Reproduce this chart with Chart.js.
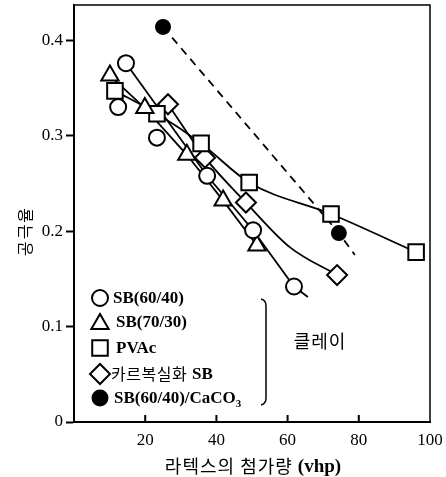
<!DOCTYPE html>
<html>
<head>
<meta charset="utf-8">
<script src="https://cdn.jsdelivr.net/npm/chart.js"></script>
<style>
  html, body { margin: 0; padding: 0; background: #fff; }
  #wrap { width: 446px; height: 477px; position: relative; }
</style>
</head>
<body>
<div id="wrap"><canvas id="c"></canvas></div>
<script>
// ---- data ----
const xTickValues = [0, 20, 40, 60, 80, 100];
const yTickValues = [0, 0.1, 0.2, 0.3, 0.4];

const sb6040X = [12.4, 14.6, 23.3, 37.4, 50.3, 61.8];
const sb6040Y = [0.330, 0.376, 0.298, 0.258, 0.201, 0.142];
const sb7030X = [10.1, 19.9, 31.7, 41.9, 51.4];
const sb7030Y = [0.363, 0.329, 0.280, 0.232, 0.185];
const pvacX = [11.5, 23.3, 35.7, 49.2, 72.2, 96.1];
const pvacY = [0.347, 0.323, 0.292, 0.251, 0.218, 0.178];
const carbX = [26.4, 36.8, 48.3, 73.9];
const carbY = [0.333, 0.277, 0.230, 0.154];
const caco3X = [25.0, 74.4];
const caco3Y = [0.414, 0.198];

// trend lines drawn in the figure
const fitSb6040X = [14.6, 37.4, 50.3, 61.8, 65.7];
const fitSb6040Y = [0.376, 0.258, 0.201, 0.142, 0.131];
const fitSb7030X = [10.1, 19.9, 31.7, 41.9, 51.4];
const fitSb7030Y = [0.363, 0.329, 0.280, 0.232, 0.185];
const fitPvacX = [11.5, 23.3, 35.7, 49.2, 72.2, 96.1];
const fitPvacY = [0.347, 0.323, 0.292, 0.251, 0.218, 0.178];
const fitCarbX = [26.4, 36.8, 48.3, 60.7, 73.9];
const fitCarbY = [0.333, 0.277, 0.230, 0.183, 0.154];
const fitCaco3X = [25.0, 74.4, 78.9];
const fitCaco3Y = [0.414, 0.198, 0.175];

const legendLabels = ['SB(60/40)', 'SB(70/30)', 'PVAc', '카르복실화SB', 'SB(60/40)/CaCO3'];
const clayLabel = '클레이';
const xTitleKo = '라텍스의 첨가량 ';
const xTitleUnit = '(vhp)';
const yTitle = '공극율';

const pts = (xs, ys) => xs.map((v, i) => ({ x: v, y: ys[i] }));

function lineDs(xs, ys, dash, monotone) {
  return {
    data: pts(xs, ys), showLine: true, pointRadius: 0, pointHoverRadius: 0,
    borderColor: '#000', borderWidth: 1.8, borderDash: dash || [],
    cubicInterpolationMode: monotone ? 'monotone' : 'default', tension: 0,
    fill: false, clip: false, order: 2
  };
}
function markDs(xs, ys, style, r, filled) {
  return {
    data: pts(xs, ys), showLine: false, pointStyle: style, pointRadius: r, pointHoverRadius: r,
    pointBorderColor: '#000', pointBackgroundColor: filled ? '#000' : '#fff', pointBorderWidth: 2,
    clip: false, order: 1
  };
}

const SERIF = '"Liberation Serif", "DejaVu Serif", serif';
const KO = '"Noto Sans CJK KR", "Noto Sans", sans-serif';

function drawMarker(ctx, style, x, y, r, filled) {
  ctx.beginPath();
  if (style === 'circle') {
    ctx.arc(x, y, r, 0, Math.PI * 2);
  } else if (style === 'triangle') {
    ctx.moveTo(x, y - r);
    ctx.lineTo(x + r * 0.866, y + r * 0.5);
    ctx.lineTo(x - r * 0.866, y + r * 0.5);
    ctx.closePath();
  } else if (style === 'rect') {
    const s = r * Math.SQRT1_2;
    ctx.rect(x - s, y - s, 2 * s, 2 * s);
  } else if (style === 'rectRot') {
    ctx.moveTo(x, y - r); ctx.lineTo(x + r, y); ctx.lineTo(x, y + r); ctx.lineTo(x - r, y); ctx.closePath();
  }
  ctx.fillStyle = filled ? '#000' : '#fff';
  ctx.fill();
  ctx.lineWidth = 2; ctx.strokeStyle = '#000';
  ctx.stroke();
}

const decor = {
  id: 'decor',
  afterDraw(chart) {
    const { ctx, chartArea: a, scales: { x } } = chart;
    ctx.save();
    ctx.strokeStyle = '#000';
    // top and right frame
    ctx.lineWidth = 1.5;
    ctx.beginPath();
    ctx.moveTo(a.left, a.top); ctx.lineTo(a.right, a.top); ctx.lineTo(a.right, a.bottom);
    ctx.stroke();
    // inward x ticks
    ctx.lineWidth = 2;
    xTickValues.forEach(v => {
      if (v > 0 && v < 100) {
        const px = x.getPixelForValue(v);
        ctx.beginPath(); ctx.moveTo(px, a.bottom); ctx.lineTo(px, a.bottom - 7); ctx.stroke();
      }
    });

    // legend inside plot
    const rows = [298, 322, 348, 374, 398];
    const styles = [['circle', 8, false], ['triangle', 10, false], ['rect', 11, false], ['rectRot', 10, false], ['circle', 7.5, true]];
    const mx = 100;
    ctx.textBaseline = 'middle';
    ctx.fillStyle = '#000';
    rows.forEach((ry, i) => {
      const [st, r, f] = styles[i];
      drawMarker(ctx, st, mx, ry + (st === 'triangle' ? 2 : 0), r, f);
      ctx.fillStyle = '#000';
      ctx.textAlign = 'left';
      const lbl = legendLabels[i];
      if (i === 3) {
        ctx.font = '16px ' + KO;
        ctx.letterSpacing = '0.5px';
        const ko = '카르복실화';
        ctx.fillText(ko, 111, ry);
        const w = ctx.measureText(ko).width;
        ctx.letterSpacing = '0px';
        ctx.font = 'bold 17px ' + SERIF;
        ctx.fillText(lbl.slice(ko.length), 111 + w + 5, ry + 1);
      } else if (i === 4) {
        ctx.font = 'bold 17px ' + SERIF;
        const main = lbl.slice(0, -1);
        ctx.fillText(main, 114, ry + 1);
        const w = ctx.measureText(main).width;
        ctx.font = 'bold 11px ' + SERIF;
        ctx.fillText(lbl.slice(-1), 114 + w, ry + 6);
      } else {
        ctx.font = 'bold 17px ' + SERIF;
        ctx.fillText(lbl, i === 0 ? 113 : 116, ry + 1);
      }
    });
    // bracket
    ctx.lineWidth = 1.5;
    ctx.beginPath();
    ctx.moveTo(261, 299);
    ctx.quadraticCurveTo(266, 300, 266, 306);
    ctx.lineTo(266, 398);
    ctx.quadraticCurveTo(266, 404, 261, 405);
    ctx.stroke();
    ctx.font = '18px ' + KO;
    ctx.letterSpacing = '1px';
    ctx.textAlign = 'center';
    ctx.fillText(clayLabel, 320, 341);

    // x title
    ctx.font = '18px ' + KO;
    ctx.letterSpacing = '1px';
    const w1 = ctx.measureText(xTitleKo).width;
    ctx.letterSpacing = '0px';
    ctx.font = 'bold 19px ' + SERIF;
    const w2 = ctx.measureText(xTitleUnit).width;
    const sx = 253 - (w1 + w2) / 2;
    ctx.textAlign = 'left';
    ctx.font = '18px ' + KO;
    ctx.letterSpacing = '1px';
    ctx.fillText(xTitleKo, sx, 466);
    ctx.letterSpacing = '0px';
    ctx.font = 'bold 19px ' + SERIF;
    ctx.fillText(xTitleUnit, sx + w1, 467);

    // y title
    ctx.translate(25, 231);
    ctx.rotate(-Math.PI / 2);
    ctx.font = '16px ' + KO;
    ctx.letterSpacing = '2px';
    ctx.textAlign = 'center';
    ctx.fillText(yTitle, 0, 0);
    ctx.restore();
  }
};

new Chart(document.getElementById('c'), {
  type: 'scatter',
  data: {
    datasets: [
      lineDs(fitSb6040X, fitSb6040Y, null, false),
      lineDs(fitSb7030X, fitSb7030Y, null, false),
      lineDs(fitPvacX, fitPvacY, null, true),
      lineDs(fitCarbX, fitCarbY, null, true),
      lineDs(fitCaco3X, fitCaco3Y, [8, 6], false),
      markDs(sb6040X, sb6040Y, 'circle', 8, false),
      markDs(sb7030X, sb7030Y, 'triangle', 10, false),
      markDs(pvacX, pvacY, 'rect', 11, false),
      markDs(carbX, carbY, 'rectRot', 10, false),
      markDs(caco3X, caco3Y, 'circle', 7, true)
    ]
  },
  options: {
    responsive: true,
    maintainAspectRatio: false,
    animation: false,
    events: [],
    layout: { autoPadding: false, padding: { top: 5, right: 16, left: 0, bottom: 0 } },
    plugins: { legend: { display: false }, tooltip: { enabled: false } },
    scales: {
      x: {
        type: 'linear', min: 0, max: 100,
        afterFit: s => { s.height = 55; s.paddingLeft = 0; s.paddingRight = 0; },
        afterBuildTicks: s => { s.ticks = xTickValues.map(v => ({ value: v })); },
        grid: { display: true, drawOnChartArea: false, drawTicks: false, color: '#000' },
        border: { display: true, color: '#000', width: 2 },
        ticks: {
          color: '#000', padding: 8, maxRotation: 0,
          font: { family: SERIF, size: 17 },
          callback: v => (v === 0 ? '' : String(v))
        }
      },
      y: {
        type: 'linear', min: 0, max: 0.437,
        afterFit: s => { s.width = 74; s.paddingTop = 0; s.paddingBottom = 0; },
        afterBuildTicks: s => { s.ticks = yTickValues.map(v => ({ value: v })); },
        grid: { display: true, drawOnChartArea: false, drawTicks: true, tickLength: 8, tickWidth: 2, color: '#000' },
        border: { display: true, color: '#000', width: 2 },
        ticks: {
          color: '#000', padding: 3,
          font: { family: SERIF, size: 17 },
          callback: v => (v === 0 ? '0' : v.toFixed(1))
        }
      }
    }
  },
  plugins: [decor]
});
</script>
</body>
</html>
